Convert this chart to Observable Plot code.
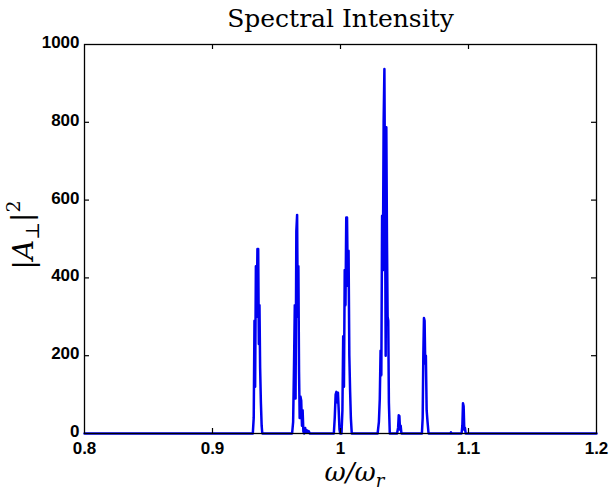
<!DOCTYPE html>
<html>
<head>
<meta charset="utf-8">
<script src="https://cdn.jsdelivr.net/npm/d3@7"></script>
<script src="https://cdn.jsdelivr.net/npm/@observablehq/plot@0.6"></script>
<style>
  html, body { margin: 0; padding: 0; background: white; }
</style>
</head>
<body>
<div id="chart"></div>
<script>
// Frequency (omega / omega_r) samples and spectral intensity |A_perp|^2
const freq = [
  0.8,
  0.9315, 0.9322, 0.9328, 0.9333, 0.9339, 0.9345, 0.9351, 0.9357, 0.9362, 0.9367, 0.9372, 0.9378, 0.9384, 0.9389,
  0.9622, 0.9630, 0.9637, 0.9643, 0.9649, 0.9655, 0.9661, 0.9666, 0.9671, 0.9676, 0.9681, 0.9687, 0.9693, 0.9699, 0.9704, 0.9710, 0.9716, 0.9724, 0.9730, 0.9738, 0.9745, 0.9752, 0.9760,
  0.9948, 0.9955, 0.9962, 0.9968, 0.9974, 0.9980, 0.9986, 0.9992, 0.9998,
  1.0008, 1.0015, 1.0021, 1.0027, 1.0033, 1.0039, 1.0045, 1.0051, 1.0057, 1.0063, 1.0069, 1.0075, 1.0081, 1.0088,
  1.0290, 1.0300, 1.0307, 1.0313, 1.0319, 1.0325, 1.0331, 1.0337, 1.0343, 1.0348, 1.0353, 1.0358, 1.0363, 1.0368, 1.0373, 1.0378, 1.0385,
  1.0442, 1.0450, 1.0455, 1.0460, 1.0465, 1.0470, 1.0476,
  1.0636, 1.0642, 1.0647, 1.0652, 1.0657, 1.0662, 1.0667, 1.0673, 1.0680, 1.0688,
  1.0858, 1.0863, 1.0868,
  1.0946, 1.0952, 1.0957, 1.0962, 1.0967, 1.0972, 1.0978,
  1.2
];
const intensity = [
  0,
  0, 40, 290, 120, 430, 300, 474, 474, 230, 330, 170, 80, 20, 0,
  0, 30, 180, 330, 90, 520, 562, 300, 430, 160, 40, 95, 85, 20, 60, 5, 0, 14, 2, 8, 3, 6, 0,
  0, 40, 100, 107, 80, 105, 60, 10, 0,
  0, 60, 250, 120, 420, 330, 555, 555, 380, 470, 200, 110, 40, 0,
  0, 30, 90, 213, 150, 560, 420, 800, 937, 600, 200, 787, 500, 300, 290, 80, 0,
  0, 15, 47, 45, 10, 20, 0,
  0, 40, 200, 297, 290, 180, 200, 60, 30, 0,
  0, 3, 0,
  0, 20, 78, 70, 10, 15, 0,
  0
];
const xTicks = [0.8, 0.9, 1.0, 1.1, 1.2];
const xTickLabels = ["0.8", "0.9", "1", "1.1", "1.2"];
const yTicks = [0, 200, 400, 600, 800, 1000];
const yTickLabels = ["0", "200", "400", "600", "800", "1000"];
const titleText = "Spectral Intensity";

const data = freq.map((f, i) => ({f, v: intensity[i]}));

const W = 614, H = 490;
const mT = 44, mB = 57, mL = 84, mR = 18;
const frameH = H - mT - mB, frameW = W - mL - mR;
const tickLen = 5;

const chart = Plot.plot({
  width: W, height: H,
  marginTop: mT, marginBottom: mB, marginLeft: mL, marginRight: mR,
  x: {domain: [0.8, 1.2]},
  y: {domain: [0, 1000]},
  style: {fontFamily: "'Liberation Sans', Arial, sans-serif", fontSize: "17px", fontWeight: "bold", color: "black", background: "white"},
  marks: [
    Plot.line(data, {x: "f", y: "v", stroke: "#0000f0", strokeWidth: 2.5}),
    Plot.frame({stroke: "black", strokeWidth: 1.3}),
    Plot.tickX(xTicks.slice(1, -1), {x: d => d, stroke: "black", strokeWidth: 1.2, insetTop: frameH - tickLen}),
    Plot.tickX(xTicks.slice(1, -1), {x: d => d, stroke: "black", strokeWidth: 1.2, insetBottom: frameH - tickLen}),
    Plot.tickY(yTicks.slice(1, -1), {y: d => d, stroke: "black", strokeWidth: 1.2, insetRight: frameW - tickLen}),
    Plot.tickY(yTicks.slice(1, -1), {y: d => d, stroke: "black", strokeWidth: 1.2, insetLeft: frameW - tickLen}),
    Plot.axisX({ticks: xTicks, tickSize: 0, tickPadding: 8, tickFormat: (d, i) => xTickLabels[i], label: null}),
    Plot.axisY({ticks: yTicks, tickSize: 0, tickPadding: 5, dy: -2, tickFormat: (d, i) => yTickLabels[i], label: null}),
    Plot.text([titleText], {frameAnchor: "top", dy: -26, dx: 0, fontFamily: "'DejaVu Serif', serif", fontSize: 25, fontWeight: "normal", lineAnchor: "middle"}),
    Plot.text(["XLABEL"], {frameAnchor: "bottom", dy: 39, dx: 14, textAnchor: "middle", fontFamily: "'DejaVu Serif', serif", fontSize: 26, fontStyle: "italic", fontWeight: "normal", lineAnchor: "middle"}),
    Plot.text(["YLABEL"], {frameAnchor: "left", dx: -60, dy: -4, textAnchor: "middle", rotate: -90, fontFamily: "'DejaVu Serif', serif", fontSize: 28, fontStyle: "italic", fontWeight: "normal", lineAnchor: "middle"})
  ]
});

// Rich-format the math axis labels with sub/superscripts
d3.select(chart).selectAll("text").each(function() {
  const t = d3.select(this);
  const s = this.textContent;
  if (s === "XLABEL") {
    t.text(null);
    t.append("tspan").text("ω/ω");
    t.append("tspan").attr("font-size", 18).attr("dy", "0.35em").text("r");
  } else if (s === "YLABEL") {
    t.text(null);
    t.append("tspan").attr("font-style", "normal").text("|");
    t.append("tspan").text("A");
    t.append("tspan").attr("font-size", 19).attr("font-style", "normal").attr("dy", "0.3em").text("⊥");
    t.append("tspan").attr("font-style", "normal").attr("dy", "-0.3em").text("|");
    t.append("tspan").attr("font-size", 19).attr("font-style", "normal").attr("dy", "-0.55em").text("2");
  }
});

document.getElementById("chart").appendChild(chart);
</script>
</body>
</html>
